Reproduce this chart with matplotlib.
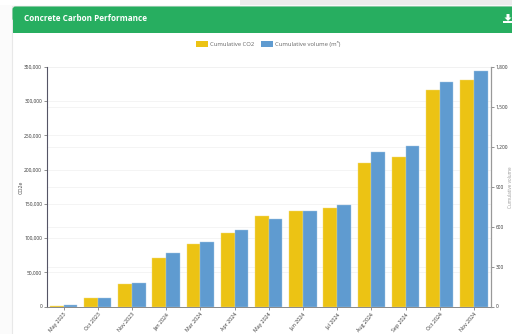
import matplotlib
matplotlib.use('Agg')
import matplotlib.pyplot as plt
from matplotlib.patches import Rectangle, FancyBboxPatch, Polygon
import numpy as np

plt.rcParams['font.family'] = ['Open Sans', 'DejaVu Sans']

months = ['May 2023', 'Oct 2023', 'Nov 2023', 'Jan 2024', 'Mar 2024', 'Apr 2024', 'May 2024',
          'Jun 2024', 'Jul 2024', 'Aug 2024', 'Sep 2024', 'Oct 2024', 'Nov 2024']
co2 = [800, 11700, 33000, 71600, 91000, 107000, 132000, 140000, 144500, 210000, 218000, 315700, 331000]
volume = [10, 66, 180, 404, 487, 577, 661, 714, 763, 1161, 1206, 1690, 1772]
co2_ticks = [0, 50000, 100000, 150000, 200000, 250000, 300000, 350000]
volume_ticks = [0, 300, 600, 900, 1200, 1500, 1800]

W, H = 512, 334
fig = plt.figure(figsize=(W / 100, H / 100), dpi=100, facecolor='#fbfbfb')

# page background, card and green header, in pixel coordinates
bg = fig.add_axes([0, 0, 1, 1])
bg.set_xlim(0, W)
bg.set_ylim(H, 0)
bg.axis('off')
bg.add_patch(Rectangle((0, 0), 240, 5, color='white', lw=0))
bg.add_patch(Rectangle((240, 0), 272, 5, color='#ececec', lw=0))
bg.add_patch(Rectangle((12, 6), 510, 340, facecolor='white', edgecolor='#e8e8e8', lw=0.8))
bg.add_patch(FancyBboxPatch((12.5, 6.5), 510, 15, boxstyle='round,pad=0,rounding_size=3',
                            facecolor='#27ae60', edgecolor='none'))
bg.add_patch(Rectangle((12.5, 12), 510, 21, color='#27ae60', lw=0))
bg.text(24, 18.3, 'Concrete Carbon Performance', color='white', fontsize=5.9,
        fontweight='bold', va='center')

# download icon
bg.add_patch(Polygon([(506.5, 14), (509.5, 14), (509.5, 17.5), (511.5, 17.5), (508, 21), (504.5, 17.5), (506.5, 17.5)],
                     color='white', lw=0))
bg.add_patch(Rectangle((503, 21), 9, 2, color='white', lw=0))

# legend drawn by hand so it sits where the original does
bg.add_patch(Rectangle((196, 41), 12, 6, color='#ecc314', lw=0))
bg.text(210.5, 44.3, 'Cumulative CO2', fontsize=4.2, color='#666666', va='center')
bg.add_patch(Rectangle((260.5, 41), 12, 6, color='#5f9bd0', lw=0))
bg.text(275, 44.3, 'Cumulative volume (m\u00b3)', fontsize=4.2, color='#666666', va='center')

left, right, top, bottom = 46.5, 491, 67, 306.5
rect = [left / W, 1 - bottom / H, (right - left) / W, (bottom - top) / H]

# gridlines of both scales sit on their own axes so they stay behind all the bars
gax = fig.add_axes(rect)
gax.patch.set_alpha(0)
gax.set_ylim(0, 1800)
gax.set_yticks(volume_ticks)
gax.set_xticks([])
gax.tick_params(left=False, labelleft=False)
gax.grid(axis='y', color='#f0f0f0', lw=0.5)
for s in gax.spines.values():
    s.set_visible(False)

ax = fig.add_axes(rect)
ax.patch.set_alpha(0)
ax2 = ax.twinx()

x = np.arange(len(months))
w = 0.4
ax.bar(x - w / 2, co2, w, color='#ecc314', edgecolor='#f3dc7a', linewidth=0.3)
ax2.bar(x + w / 2, volume, w, color='#5f9bd0', edgecolor='#a5c8e6', linewidth=0.3)

ax.set_xlim(-0.5, len(months) - 0.5)
ax.set_ylim(0, 350000)
ax2.set_ylim(0, 1800)
ax.set_yticks(co2_ticks)
ax.set_yticklabels([f'{v:,}' for v in co2_ticks])
ax2.set_yticks(volume_ticks)
ax2.set_yticklabels([f'{v:,}' for v in volume_ticks])
ax.set_xticks(x)
ax.set_xticklabels(months, rotation=50, ha='right', rotation_mode='anchor')

ax.set_axisbelow(True)
ax.grid(axis='y', color='#f0f0f0', lw=0.5)

for a in (ax, ax2):
    a.tick_params(axis='both', labelsize=3.5, length=2, width=0.5, pad=1.2,
                  color='#666666', labelcolor='#333333')
    for s in a.spines.values():
        s.set_visible(False)
ax.tick_params(axis='x', labelsize=3.8, pad=2)
ax.spines['left'].set_visible(True)
ax.spines['left'].set_color('#555566')
ax.spines['left'].set_linewidth(0.8)
ax.spines['bottom'].set_visible(True)
ax.spines['bottom'].set_color('#888888')
ax.spines['bottom'].set_linewidth(0.7)
ax2.spines['right'].set_visible(True)
ax2.spines['right'].set_color('#999999')
ax2.spines['right'].set_linewidth(0.9)

ax.set_ylabel('CO2e', fontsize=3.8, color='#444444')
ax.yaxis.set_label_coords((23.5 - left) / (right - left), 0.5)
ax2.set_ylabel('Cumulative volume', fontsize=3.3, color='#999999')
ax2.yaxis.set_label_coords((508.5 - left) / (right - left), 0.5)

fig.savefig('out.png', dpi=100, facecolor=fig.get_facecolor())
